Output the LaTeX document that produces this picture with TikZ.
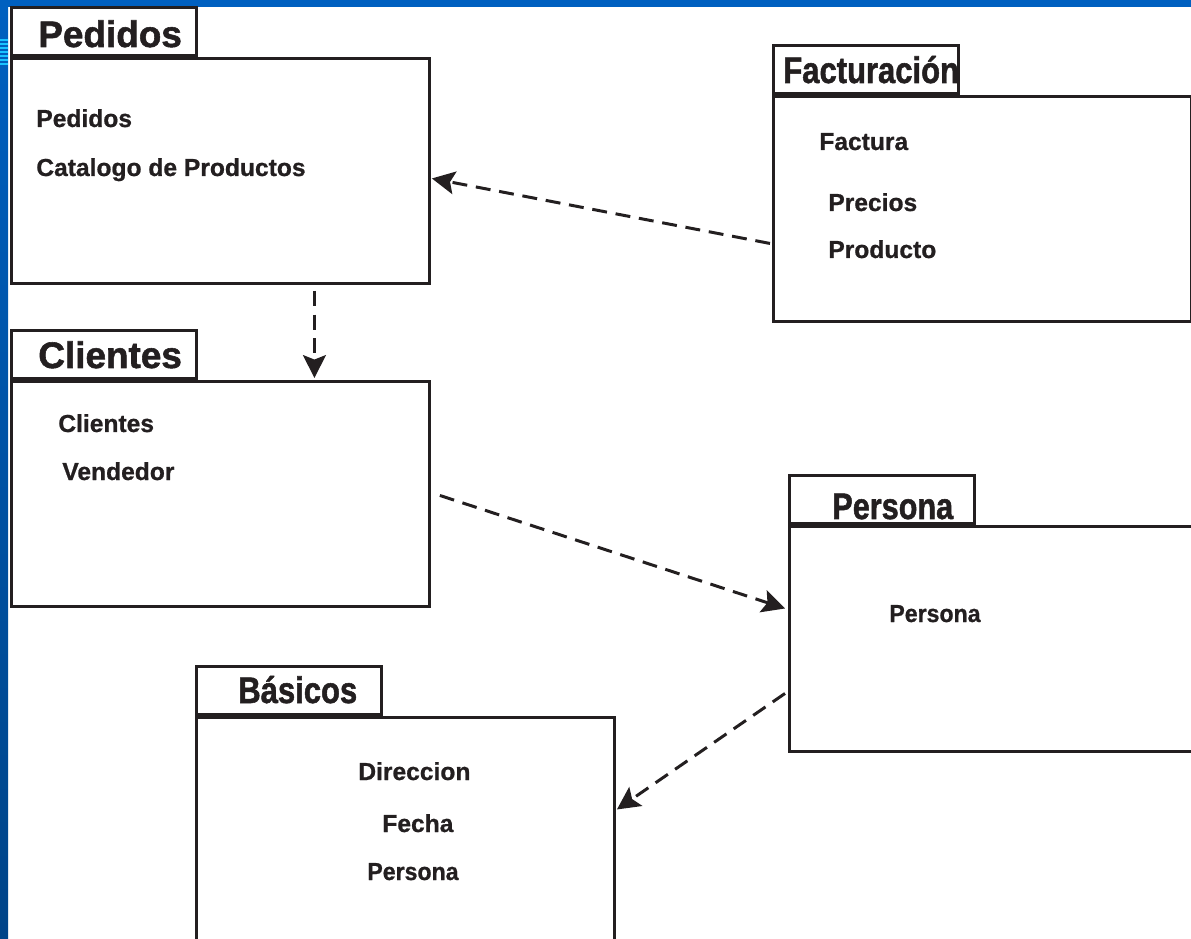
\documentclass[tikz,border=0pt]{standalone}
\usepackage{fontspec}
\setmainfont{Liberation Sans}
\newfontfamily\heavyfont[FakeBold=1.5]{Liberation Sans Bold}
\newfontfamily\itemfont[FakeBold=0.8]{Liberation Sans Bold}
\usetikzlibrary{arrows.meta}
\definecolor{ink}{RGB}{35,31,32}
\definecolor{bandblue}{RGB}{0,96,192}
\definecolor{banddark}{RGB}{0,68,136}
\definecolor{stripecyan}{RGB}{25,195,255}

\begin{document}
\begin{tikzpicture}[x=0.02cm,y=-0.02cm,
    pkgbody/.style={draw=ink,line width=1.7pt,minimum width=8.36cm,minimum height=4.5cm,inner sep=0pt,anchor=north west},
    pkgtab/.style={draw=ink,line width=1.7pt,minimum width=3.7cm,minimum height=0.96cm,inner sep=0pt,anchor=south west},
    tabname/.style={anchor=base west,inner sep=0pt,text=ink,font=\heavyfont\fontsize{21}{21}\selectfont},
    item/.style={anchor=base west,inner sep=0pt,text=ink,font=\itemfont\fontsize{14}{14}\selectfont},
    dep/.style={draw=ink,line width=1.7pt,dash pattern=on 8.5pt off 5pt,
      -{Stealth[length=13pt,width=13pt,inset=2.5pt]}}]
   \useasboundingbox (0,0) rectangle (1191,939);
   \clip (0,0) rectangle (1191,939);
   % slide frame
   \fill[bandblue] (0,0) rectangle (1191,7);
   \shade[top color=bandblue,bottom color=banddark] (0,0) rectangle (8,939);
   \foreach \y in {39,43,...,63}
     \fill[stripecyan] (0,\y) rectangle (8,\y+2);
   % packages
   \node[pkgbody] (pedidos) at (10,57) {};
   \node[pkgtab] (pedidos-tab) at (pedidos.north west) {};
   \node[pkgbody] (facturacion) at (772,95) {};
   \node[pkgtab] (facturacion-tab) at (facturacion.north west) {};
   \node[pkgbody] (clientes) at (10,380) {};
   \node[pkgtab] (clientes-tab) at (clientes.north west) {};
   \node[pkgbody] (persona) at (788,525) {};
   \node[pkgtab] (persona-tab) at (persona.north west) {};
   \node[pkgbody] (basicos) at (195,716) {};
   \node[pkgtab] (basicos-tab) at (basicos.north west) {};
   % names
   \node[tabname] (pedidos-name) at (38,47) {Pedidos};
   \node[tabname] (facturacion-name) at (783,83) {\scalebox{0.84}[1]{Facturación}};
   \node[tabname] (clientes-name) at (38,368) {Clientes};
   \node[tabname] (persona-name) at (832,519) {\scalebox{0.83}[1]{Persona}};
   \node[tabname] (basicos-name) at (238,703) {\scalebox{0.84}[1]{Básicos}};
   % contents
   \node[item] (p1) at (36,127) {Pedidos};
   \node[item] (p2) at (36,176) {Catalogo de Productos};
   \node[item] (f1) at (819,150) {Factura};
   \node[item] (f2) at (828,211) {Precios};
   \node[item] (f3) at (828,258) {Producto};
   \node[item] (c1) at (58,432) {Clientes};
   \node[item] (c2) at (62,480) {Vendedor};
   \node[item] (r1) at (889,622) {\scalebox{0.94}[1]{Persona}};
   \node[item] (b1) at (358,780) {Direccion};
   \node[item] (b2) at (382,832) {Fecha};
   \node[item] (b3) at (367,880) {\scalebox{0.94}[1]{Persona}};
   % dependencies
   \begin{scope}[every edge/.style={dep}]
    \draw ([xshift=-0.04cm,yshift=-0.69cm]facturacion.west) edge ([xshift=0.02cm,yshift=-0.15cm]pedidos.east);
    \draw ([xshift=1.88cm,yshift=-0.12cm]pedidos.south) edge ([xshift=1.88cm,yshift=0.04cm]clientes.north);
    \draw ([xshift=0.18cm,yshift=-0.03cm]clientes.east) edge ([xshift=-0.06cm,yshift=0.61cm]persona.west);
    \draw ([xshift=-0.06cm,yshift=-1.09cm]persona.west) edge ([xshift=0.02cm,yshift=0.41cm]basicos.east);
   \end{scope}
\end{tikzpicture}
\end{document}
